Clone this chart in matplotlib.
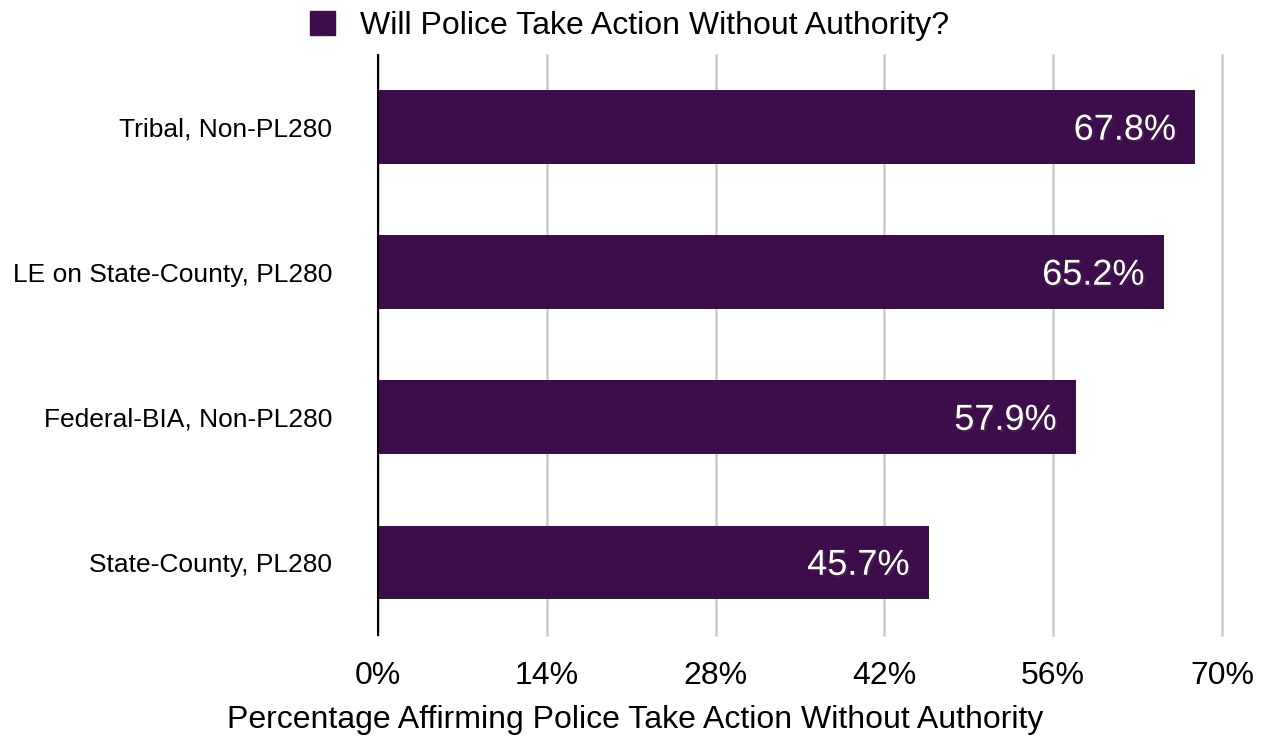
import matplotlib.pyplot as plt
import matplotlib.patheffects as pe
from matplotlib.patches import Patch

plt.rcParams['font.family'] = ['Liberation Sans', 'DejaVu Sans']

# datos del grafico (de abajo hacia arriba)
categories = ["State-County, PL280", "Federal-BIA, Non-PL280",
              "LE on State-County, PL280", "Tribal, Non-PL280"]
values = [45.7, 57.9, 65.2, 67.8]
xticks = [0, 14, 28, 42, 56, 70]
series_name = "Will Police Take Action Without Authority?"
bar_color = "#3d0c4a"

fig = plt.figure(figsize=(12.65, 7.39), dpi=100)
ax = fig.add_axes([0.2988, 0.1407, 0.6672, 0.785])

ypos = range(len(categories))
bars = ax.barh(ypos, values, height=0.51, color=bar_color, zorder=3)

# etiquetas dentro de las barras con sombra
for b, v in zip(bars, values):
    ax.annotate(f"{v}%", xy=(b.get_width(), b.get_y() + b.get_height() / 2),
                xytext=(-14, -2), textcoords="offset points",
                ha="right", va="center", color="white", fontsize=26, zorder=4,
                path_effects=[pe.withSimplePatchShadow(offset=(1.5, -1.5), alpha=0.3)])

ax.set_xlim(0, 70)
ax.set_ylim(-0.5, 3.5)
ax.set_xticks(xticks)
ax.set_xticklabels([f"{t}%" for t in xticks], fontsize=23)
ax.set_yticks(list(ypos))
ax.set_yticklabels(categories, fontsize=19)
ax.tick_params(axis="x", length=0, pad=19)
ax.tick_params(axis="y", length=0, pad=33)
ax.xaxis.grid(True, color="#cccccc", linewidth=1.8, zorder=0)
for gl in ax.get_xgridlines():
    gl.set_clip_on(False)
for s in ["top", "right", "bottom"]:
    ax.spines[s].set_visible(False)
ax.spines["left"].set_color("black")
ax.spines["left"].set_linewidth(1.5)
ax.spines["left"].set_zorder(5)

ax.set_xlabel("Percentage Affirming Police Take Action Without Authority",
              fontsize=23)
ax.xaxis.set_label_coords(0.3046, -0.1466)
ax.xaxis.label.set_va("center")

fig.legend(handles=[Patch(color=bar_color, label=series_name)],
           loc="center", bbox_to_anchor=(0.498, 0.965), frameon=False,
           fontsize=23, handlelength=0.78, handleheight=0.78, handletextpad=0.78)

fig.savefig("out.png", dpi=100)
